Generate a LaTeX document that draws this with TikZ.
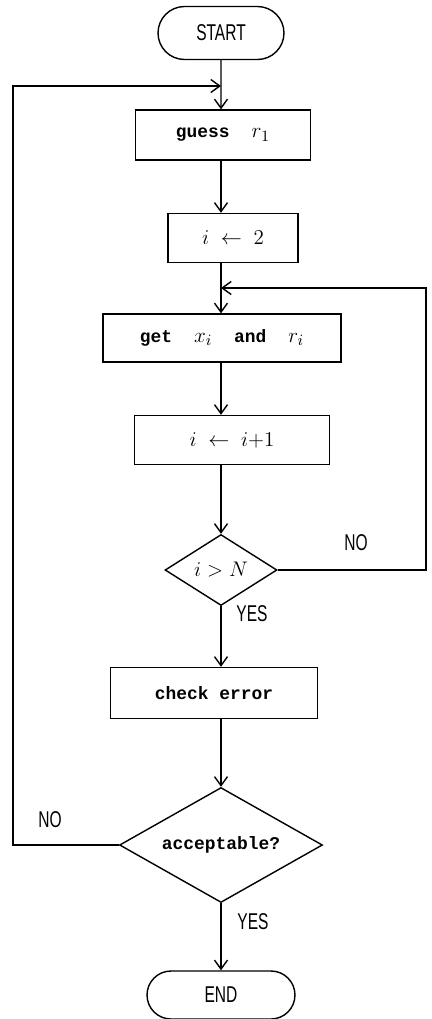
\documentclass[tikz,border=0pt]{standalone}
\usepackage{fontspec}
\usetikzlibrary{shapes.geometric,shapes.misc,arrows.meta}
\setmonofont{Liberation Mono}
\newfontfamily\lblfont[FakeStretch=0.68]{Liberation Sans}

\begin{document}
\begin{tikzpicture}[x=0.02cm,y=-0.02cm,line width=0.8pt,
        >={Straight Barb[length=1.8mm,width=2.6mm]},
        box/.style={draw,rectangle,inner sep=0pt,minimum height=0.98cm,font=\fontsize{12.5}{14}\selectfont},
        term/.style={draw,rounded rectangle,inner sep=0pt,font=\lblfont\fontsize{13}{15}\selectfont},
        test/.style={draw,diamond,inner sep=0pt,font=\fontsize{12.5}{14}\selectfont},
        yn/.style={font=\lblfont\fontsize{13}{15}\selectfont},
        mono/.style={font=\ttfamily\bfseries\fontsize{10.2}{12}\selectfont}]
        \useasboundingbox (0,0) rectangle (432,1019);
        \coordinate (axis) at (221,0);
        \coordinate (joinA) at (221,86);
        \coordinate (joinB) at (221,288);
        \coordinate (cornerL) at (13,86);
        \coordinate (cornerR) at (426,288);

        \node[term,minimum width=2.52cm,minimum height=1.06cm] (start) at (221,33) {START};
        \node[box,minimum width=3.5cm,minimum height=1cm] (guess) at (223,135)
            {{\ttfamily\bfseries\fontsize{10.2}{12}\selectfont guess}\quad$r_1$};
        \node[box,minimum width=2.6cm] (init) at (233,238) {$i\;\leftarrow\;2$};
        \node[box,minimum width=4.76cm,minimum height=0.96cm] (get) at (222,338)
            {{\ttfamily\bfseries\fontsize{10.2}{12}\selectfont get}\quad$x_i$\quad
             {\ttfamily\bfseries\fontsize{10.2}{12}\selectfont and}\quad$r_i$};
        \node[box,minimum width=3.9cm] (incr) at (232,440) {$i\;\leftarrow\;i{+}1$};
        \node[test,aspect=1.58,minimum width=2.24cm,minimum height=1.42cm] (last) at (221,570) {$i>N$};
        \node[box,mono,minimum width=4.14cm,minimum height=1.02cm] (check) at (214,693) {check error};
        \node[test,mono,aspect=1.77,minimum width=4.06cm,minimum height=2.3cm] (accept) at (221,845) {acceptable?};
        \node[term,minimum width=2.96cm,minimum height=0.96cm] (end) at (221,995) {END};

        % main flow
        \draw[->] (start) -- (guess.north -| axis);
        \draw[->] (guess.south -| axis) -- (init.north -| axis);
        \draw[->] (init.south -| axis) -- (get.north -| axis);
        \draw[->] (get.south -| axis) -- (incr.north -| axis);
        \draw[->] (incr.south -| axis) -- (last.north);
        \draw[->] (last.south) -- (check.north -| axis);
        \draw[->] (check.south -| axis) -- (accept.north);
        \draw[->] (accept.south) -- (end.north);
        % loops back
        \draw[->] (last.east) -| (cornerR) -- (joinB);
        \draw[->] (accept.west) -| (cornerL) -- (joinA);

        \node[yn] (noB) at (356,543) {NO};
        \node[yn] (yesB) at (252,614) {YES};
        \node[yn] (noA) at (50,820) {NO};
        \node[yn] (yesA) at (253,922) {YES};
    \end{tikzpicture}
\end{document}
